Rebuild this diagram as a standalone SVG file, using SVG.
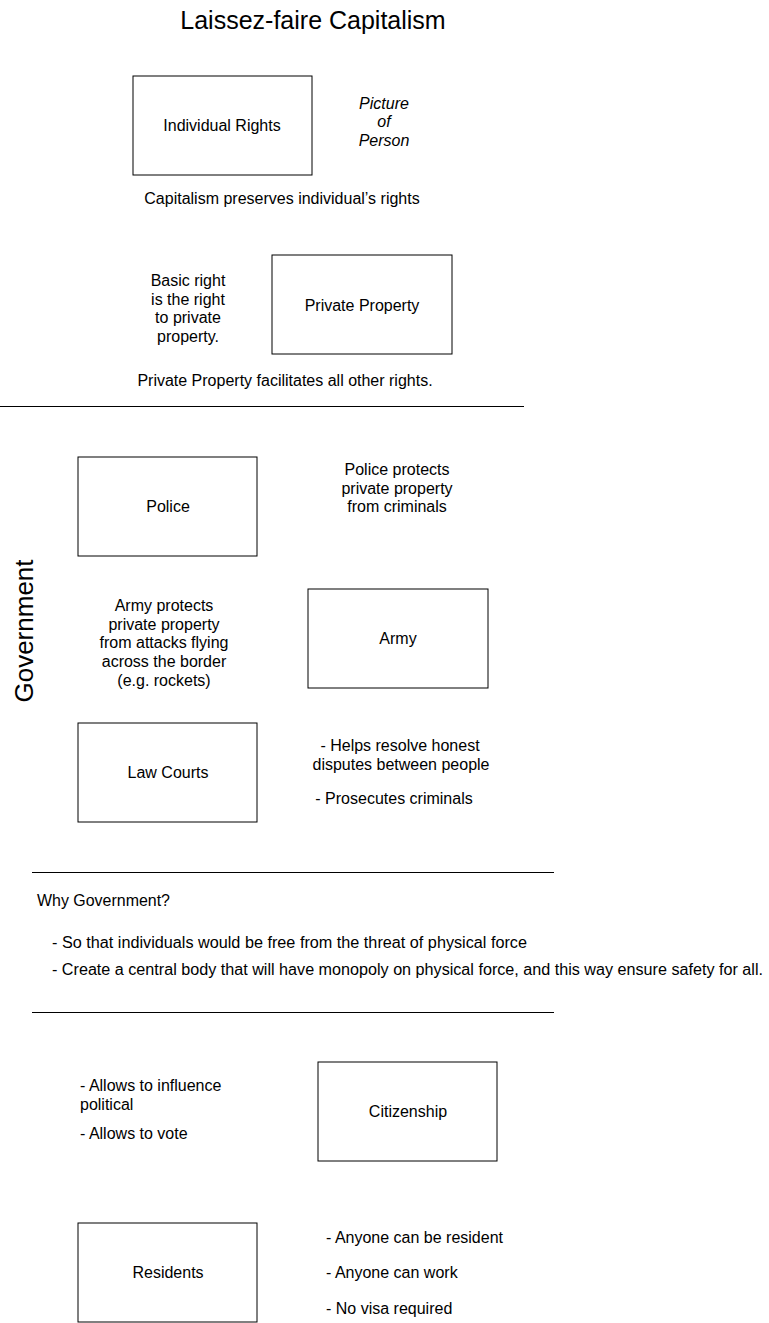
<svg xmlns="http://www.w3.org/2000/svg" width="769" height="1323" viewBox="0 0 769 1323">
<style>
text{font-family:"Liberation Sans",Arial,Helvetica,sans-serif;font-size:16px;fill:#000}
.c{text-anchor:middle}
.box{fill:#fff;stroke:#000;stroke-width:1}
.sep{stroke:#000;stroke-width:1}
.it{font-style:italic}
</style>
<rect width="769" height="1323" fill="#fff"/>
<text id="title" class="c" x="313" y="29" style="font-size:25px">Laissez-faire Capitalism</text>
<g id="individual-rights"><rect class="box" x="133" y="76" width="179" height="99"/><text class="c" x="222" y="131">Individual Rights</text></g>
<g id="picture-note"><text class="c it" x="384" y="109">Picture</text><text class="c it" x="384" y="127">of</text><text class="c it" x="384" y="146">Person</text></g>
<text id="note1" class="c" x="282" y="204">Capitalism preserves individual’s rights</text>
<g id="basic-right"><text class="c" x="188" y="286">Basic right</text><text class="c" x="188" y="305">is the right</text><text class="c" x="188" y="323">to private</text><text class="c" x="188" y="342">property.</text></g>
<g id="private-property"><rect class="box" x="272" y="255" width="180" height="99"/><text class="c" x="362" y="311">Private Property</text></g>
<text id="note2" class="c" x="285" y="386">Private Property facilitates all other rights.</text>
<g id="connectors">
<line class="sep" x1="0" y1="406.5" x2="524" y2="406.5"/>
<line class="sep" x1="32" y1="872.5" x2="554" y2="872.5"/>
<line class="sep" x1="32" y1="1012.5" x2="554" y2="1012.5"/>
</g>
<g id="police"><rect class="box" x="78" y="457" width="179" height="99"/><text class="c" x="168" y="512">Police</text></g>
<g id="police-note"><text class="c" x="397" y="475">Police protects</text><text class="c" x="397" y="494">private property</text><text class="c" x="397" y="512">from criminals</text></g>
<text id="government" class="c" transform="translate(33,631) rotate(-90)" style="font-size:26px">Government</text>
<g id="army-note"><text class="c" x="164" y="611">Army protects</text><text class="c" x="164" y="630">private property</text><text class="c" x="164" y="648">from attacks flying</text><text class="c" x="164" y="667">across the border</text><text class="c" x="164" y="686">(e.g. rockets)</text></g>
<g id="army"><rect class="box" x="308" y="589" width="180" height="99"/><text class="c" x="398" y="644">Army</text></g>
<g id="law-courts"><rect class="box" x="78" y="723" width="179" height="99"/><text class="c" x="168" y="778">Law Courts</text></g>
<g id="courts-note"><text class="c" x="400" y="751">- Helps resolve honest</text><text class="c" x="401" y="770">disputes between people</text><text class="c" x="394" y="804">- Prosecutes criminals</text></g>
<g id="why-government">
<text x="37" y="906" textLength="133" lengthAdjust="spacingAndGlyphs">Why Government?</text>
<text x="52" y="948" textLength="475" lengthAdjust="spacingAndGlyphs">- So that individuals would be free from the threat of physical force</text>
<text x="52" y="975" textLength="711" lengthAdjust="spacingAndGlyphs">- Create a central body that will have monopoly on physical force, and this way ensure safety for all.</text>
</g>
<g id="citizen-note"><text x="80" y="1091">- Allows to influence</text><text x="80" y="1110">political</text><text x="80" y="1139">- Allows to vote</text></g>
<g id="citizenship"><rect class="box" x="318" y="1062" width="179" height="99"/><text class="c" x="408" y="1117">Citizenship</text></g>
<g id="residents"><rect class="box" x="78" y="1223" width="179" height="99"/><text class="c" x="168" y="1278">Residents</text></g>
<g id="resident-note"><text x="326" y="1243">- Anyone can be resident</text><text x="326" y="1278">- Anyone can work</text><text x="326" y="1314">- No visa required</text></g>
</svg>
